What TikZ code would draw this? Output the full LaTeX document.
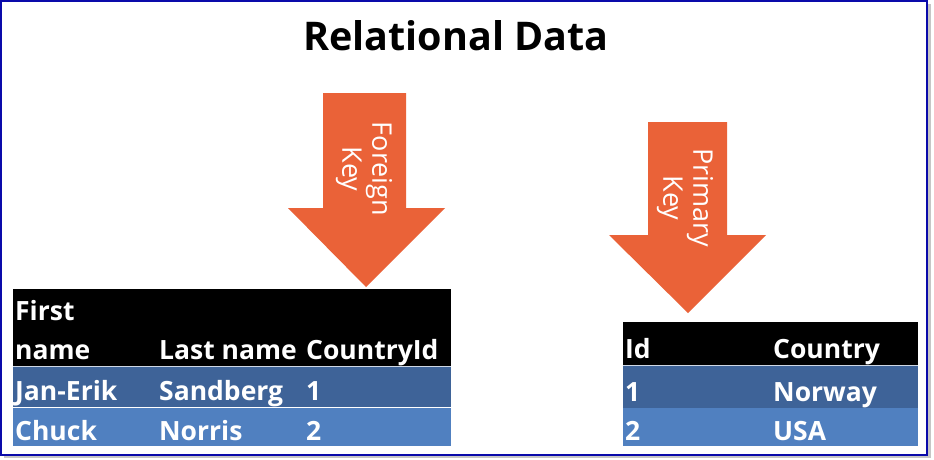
\documentclass[tikz,border=0pt]{standalone}
\usepackage{fontspec}
\setmainfont{Open Sans}
\definecolor{keyorange}{RGB}{234,98,56}
\definecolor{rowdark}{RGB}{62,99,152}
\definecolor{rowlight}{RGB}{80,128,192}
\definecolor{frameblue}{RGB}{10,10,170}
\begin{document}
\begin{tikzpicture}[x=1pt,y=-1pt,
  cell/.style={anchor=base west,inner sep=0pt,text=white,font=\bfseries\fontsize{26.5}{30}\selectfont},
  keytext/.style={rotate=-90,text=white,align=center,inner sep=0pt,font=\fontsize{27}{30}\selectfont},
  keyarrow/.style={fill=keyorange,draw=none}]
\useasboundingbox (0,0) rectangle (934,459);
% frame with shadow
\fill[gray!45] (4,4) rectangle (931,458);
\fill[white] (1,1) rectangle (927,455);
\draw[frameblue,line width=2pt] (1,1) rectangle (927,455);
% title
\node[anchor=base,inner sep=0pt,font=\bfseries\fontsize{39.5}{44}\selectfont] (title) at (456,50) {Relational Data};
% Foreign key arrow
\fill[keyarrow] (323,93) -- (406,93) -- (406,208) -- (445,208) -- (366,287) -- (288,208) -- (323,208) -- cycle;
\node[keytext] (fk) at (364,169) {Foreign\\Key};
% Primary key arrow
\fill[keyarrow] (648,122) -- (727,122) -- (727,235) -- (766,235) -- (688,313) -- (609,235) -- (648,235) -- cycle;
\node[keytext] (pk) at (685,198) {Primary\\Key};
% Table 1
\fill[black] (13,289) rectangle (451,366);
\fill[rowdark] (13,367) rectangle (451,407);
\fill[rowlight] (13,408) rectangle (451,446);
\draw[white!75!rowdark,line width=0.8pt] (13,366.5) -- (451,366.5);
\node[cell] (h1a) at (15,320) {First};
\node[cell] (h1b) at (15,359) {name};
\node[cell] (h1c) at (159,359) {Last name};
\node[cell] (h1d) at (306,359) {CountryId};
\node[cell] (r1a) at (15,400) {Jan-Erik};
\node[cell] (r1b) at (159,400) {Sandberg};
\node[cell] (r1c) at (306,400) {1};
\node[cell] (r2a) at (15,440) {Chuck};
\node[cell] (r2b) at (159,440) {Norris};
\node[cell] (r2c) at (306,440) {2};
% Table 2
\fill[black] (623,322) rectangle (918,365);
\fill[rowdark] (623,366) rectangle (918,408);
\fill[rowlight] (623,408) rectangle (918,446);
\draw[white!75!rowdark,line width=0.8pt] (623,365.5) -- (918,365.5);
\node[cell] (h2a) at (625,358) {Id};
\node[cell] (h2b) at (773,358) {Country};
\node[cell] (s1a) at (625,401) {1};
\node[cell] (s1b) at (773,401) {Norway};
\node[cell] (s2a) at (625,440) {2};
\node[cell] (s2b) at (773,440) {USA};
\end{tikzpicture}
\end{document}
